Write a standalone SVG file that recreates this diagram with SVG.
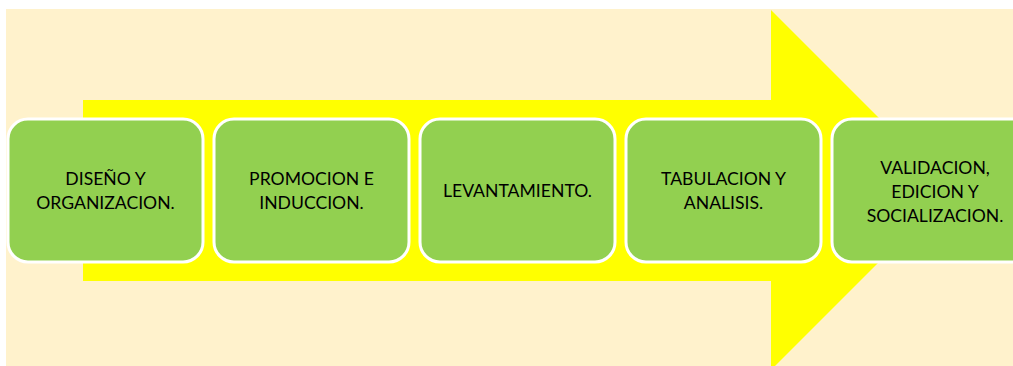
<svg xmlns="http://www.w3.org/2000/svg" width="1013" height="366" viewBox="0 0 1013 366">
  <style>
    .box { fill: #92D050; stroke: #FFFFFF; stroke-width: 3; }
    .lbl { font-family: Lato, "Open Sans", "Liberation Sans", sans-serif; font-size: 17.6px; fill: #000000; text-anchor: middle; }
  </style>
  <rect x="0" y="0" width="1013" height="366" fill="#FFFFFF"/>
  <rect id="background" x="6" y="9" width="1007" height="357" fill="#FFF2CC"/>
  <g id="connectors">
    <polygon id="arrow" points="83,100 771,100 771,10 951,190 771,370 771,281 83,281" fill="#FFFF00"/>
  </g>
  <g id="node1">
    <rect class="box" x="8" y="119" width="195" height="143" rx="20" ry="20"/>
    <text class="lbl" x="105.5" y="185">DISEÑO Y</text>
    <text class="lbl" x="105.5" y="209">ORGANIZACION.</text>
  </g>
  <g id="node2">
    <rect class="box" x="214" y="119" width="195" height="143" rx="20" ry="20"/>
    <text class="lbl" x="311.5" y="185">PROMOCION E</text>
    <text class="lbl" x="311.5" y="209">INDUCCION.</text>
  </g>
  <g id="node3">
    <rect class="box" x="420" y="119" width="195" height="143" rx="20" ry="20"/>
    <text class="lbl" x="517.5" y="197">LEVANTAMIENTO.</text>
  </g>
  <g id="node4">
    <rect class="box" x="626" y="119" width="195" height="143" rx="20" ry="20"/>
    <text class="lbl" x="723.5" y="185">TABULACION Y</text>
    <text class="lbl" x="723.5" y="209">ANALISIS.</text>
  </g>
  <g id="node5">
    <rect class="box" x="832" y="119" width="206" height="143" rx="20" ry="20"/>
    <text class="lbl" x="935" y="174">VALIDACION,</text>
    <text class="lbl" x="935" y="198">EDICION Y</text>
    <text class="lbl" x="935" y="222">SOCIALIZACION.</text>
  </g>
</svg>
